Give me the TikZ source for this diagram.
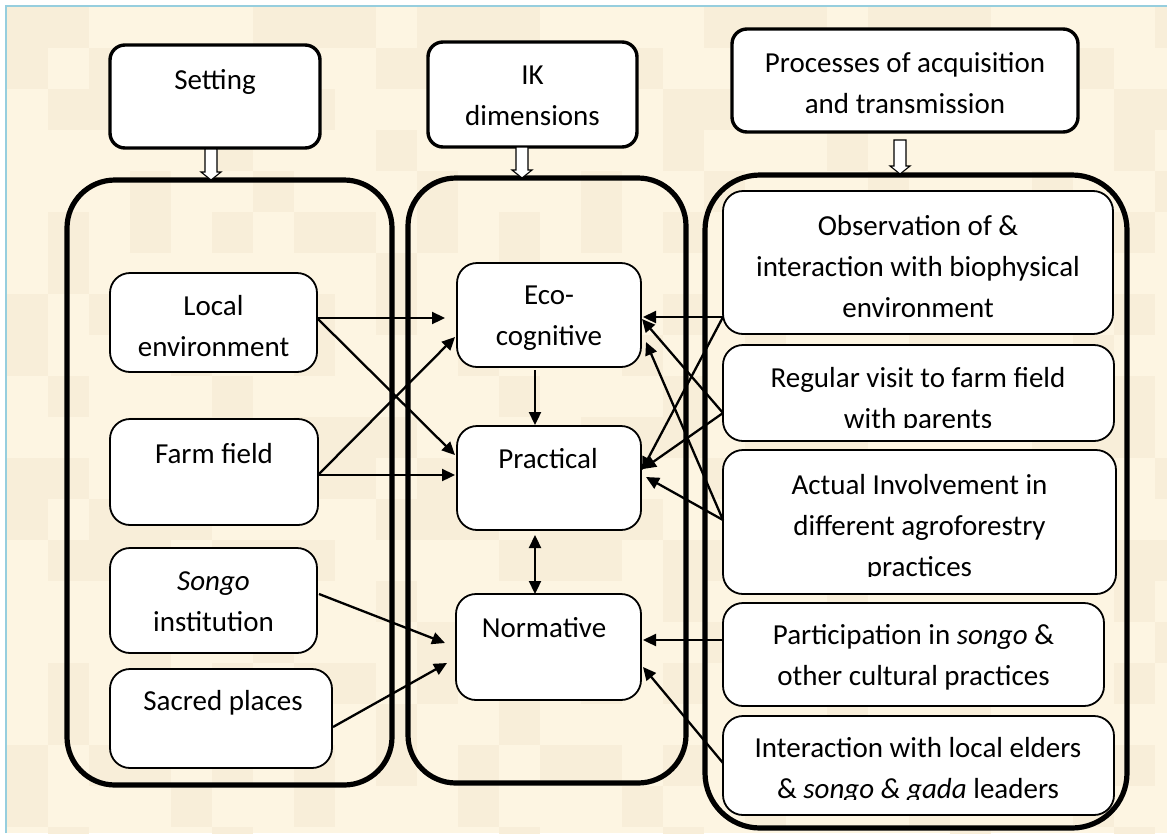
\documentclass[tikz,border=0pt]{standalone}
\usepackage{fontspec}
\setmainfont{Carlito}
\usetikzlibrary{calc,arrows.meta}
\definecolor{bgA}{RGB}{253,245,226}
\definecolor{bgB}{RGB}{248,238,217}
\definecolor{frameblue}{RGB}{150,206,222}
\tikzset{
  hdr/.style={draw=black, line width=3.4pt, fill=white, rounded corners=15pt, inner sep=0pt, outer sep=0pt},
  cont/.style={draw=black, line width=5.2pt, rounded corners=48pt, inner sep=0pt, outer sep=0pt},
  ibox/.style={draw=black, line width=1.8pt, fill=white, rounded corners=20pt, inner sep=0pt, outer sep=0pt},
  txt/.style={font=\fontsize{29}{41}\selectfont, align=center, inner sep=0pt, outer sep=0pt},
  conn/.style={line width=2.3pt, -{Triangle[length=13pt,width=12pt]}},
  conntwo/.style={line width=2.3pt, {Triangle[length=13pt,width=12pt]}-{Triangle[length=13pt,width=12pt]}},
  blk/.style={draw=black, line width=1.1pt, fill=white, line join=miter}
}
\newcommand\blockarrow[2]{%
  \draw[blk] ($(#1)+(-6,0)$) -- ($(#2)+(-6,-8)$) -- ($(#2)+(-10,-8)$) -- (#2)
    -- ($(#2)+(10,-8)$) -- ($(#2)+(6,-8)$) -- ($(#1)+(6,0)$) -- cycle;}
\begin{document}
\begin{tikzpicture}[x=1pt,y=-1pt]
\useasboundingbox (0,0) rectangle (1167,833);
% background
\fill[white] (0,0) rectangle (1167,833);
\fill[bgA] (7,7) rectangle (1167,833);
\begin{scope}
  \clip (7,7) rectangle (1167,833);
  \foreach \i in {0,...,28}{\foreach \j in {0,...,20}{
    \pgfmathtruncatemacro\myr{mod(\i*17+\j*31+\i*\j*13+\i*\i*7+\j*\j*3,11)}
    \ifnum\myr<4 \fill[bgB] ({\i*41+7},{\j*41+7}) rectangle ++(41,41);\fi
  }}
\end{scope}
\draw[frameblue, line width=2.5pt] (6,833) -- (6,6) -- (1167,6);

% header boxes
\node[hdr, minimum width=210pt, minimum height=103pt] (set) at (215,96.5) {};
\node[hdr, minimum width=209pt, minimum height=105pt] (ik) at (532.5,94.5) {};
\node[hdr, minimum width=346pt, minimum height=103pt] (proc) at (905,80.5) {};
\node[txt] (sett) at (215,81) {\strut Setting};
\node[txt] (ikt) at (532.5,97) {\strut IK\\\strut dimensions};
\node[txt] (proct) at (905,85) {\strut Processes of acquisition\\\strut and transmission};

% inner boxes
\node[ibox, minimum width=207pt, minimum height=99pt] (loc) at (213.5,322.5) {};
\node[ibox, minimum width=208pt, minimum height=106pt] (farm) at (214,472) {};
\node[ibox, minimum width=207pt, minimum height=105pt] (songo) at (213.5,600.5) {};
\node[ibox, minimum width=222pt, minimum height=99pt] (sacred) at (221,718.5) {};
\node[ibox, minimum width=184pt, minimum height=104pt] (eco) at (549,315) {};
\node[ibox, minimum width=184pt, minimum height=104pt] (prac) at (549,478) {};
\node[ibox, minimum width=185pt, minimum height=106pt] (norm) at (548.5,647) {};
\node[ibox, minimum width=390pt, minimum height=143pt] (obs) at (918,262.5) {};
\node[ibox, minimum width=391pt, minimum height=96pt] (reg) at (918.5,393) {};
\node[ibox, minimum width=393pt, minimum height=144pt] (act) at (919.5,522) {};
\node[ibox, minimum width=381pt, minimum height=103pt] (part) at (913.5,654.5) {};
\node[ibox, minimum width=391pt, minimum height=99pt] (inter) at (918.5,765.5) {};

% texts
\node[txt] (loct) at (213.5,328) {\strut Local\\\strut environment};
\node[txt] (farmt) at (214,455) {\strut Farm field};
\node[txt] (songot) at (213.5,603) {\strut\textit{Songo}\\\strut institution};
\node[txt] (sacredt) at (223,702) {\strut Sacred places};
\node[txt] (ecot) at (549,317) {\strut Eco-\\\strut cognitive};
\node[txt] (pract) at (548,460) {\strut Practical};
\node[txt] (normt) at (544,629) {\strut Normative};
\node[txt] (obst) at (918,268) {\strut Observation of \&\\\strut interaction with biophysical\\\strut environment};
\begin{scope}
  \clip (reg.north west) rectangle ($(reg.east)+(200,34)$);
  \node[txt] (regt) at (918,400) {\strut Regular visit to farm field\\\strut with parents};
\end{scope}
\begin{scope}
  \clip (act.north west) rectangle ($(act.east)+(200,54)$);
  \node[txt] (actt) at (919.5,527) {\strut Actual Involvement in\\\strut different agroforestry\\\strut practices};
\end{scope}
\node[txt] (partt) at (913.5,657) {\strut Participation in \textit{songo} \&\\\strut other cultural practices};
\begin{scope}
  \clip (inter.north west) rectangle ($(inter.east)+(200,34)$);
  \node[txt] (intert) at (918,770) {\strut Interaction with local elders\\\strut \& \textit{songo \& gada} leaders};
\end{scope}

% containers
\node[cont, minimum width=325pt, minimum height=605pt] (lcont) at (229.5,482.5) {};
\node[cont, minimum width=278pt, minimum height=605pt] (mcont) at (547,480.5) {};
\node[cont, rounded corners=55pt, minimum width=422pt, minimum height=653pt] (rcont) at (916,501.5) {};

% block arrows
\coordinate (a1s) at ($(set.south)+(-4,1)$);
\coordinate (a1e) at (a1s |- lcont.north);
\coordinate (a2s) at ($(ik.south)+(-10.5,0)$);
\coordinate (a2e) at (a2s |- mcont.north);
\coordinate (a3s) at ($(proc.south)+(-5,8)$);
\coordinate (a3e) at ($(a3s |- rcont.north)+(0,-1)$);
\blockarrow{a1s}{a1e}
\blockarrow{a2s}{a2e}
\blockarrow{a3s}{a3e}

% connectors left
\draw[conn] ($(loc.east)+(0,-4.5)$) -- ($(eco.west)+(-12,3)$);
\draw[conn] ($(loc.east)+(0,-4.5)$) -- ($(prac.west)+(-2,-23)$);
\draw[conn] ($(farm.east)+(0,3)$) -- ($(eco.west)+(-2,22)$);
\draw[conn] ($(farm.east)+(0,3)$) -- ($(prac.west)+(-2,-3)$);
\draw[conn] ($(songo.east)+(2,-6.5)$) -- ($(norm.west)+(-11,-4)$);
\draw[conn] ($(sacred.east)+(1,8.5)$) -- ($(norm.west)+(-9,16)$);
% connectors middle
\draw[conn] ($(eco.south)+(-14,3)$) -- ($(prac.north)+(-14,-1)$);
\draw[conntwo] ($(prac.south)+(-14,5)$) -- ($(norm.north)+(-13.5,0)$);
% connectors right
\draw[conn] ($(obs.west)+(0,54.5)$) -- ($(eco.east)+(2,2)$);
\draw[conn] ($(obs.west)+(0,54.5)$) -- ($(prac.east)+(1,-8)$);
\draw[conn] ($(reg.west)+(0,20)$) -- ($(eco.east)+(1,4)$);
\draw[conn] ($(reg.west)+(0,20)$) -- ($(prac.east)+(2,-9)$);
\draw[conn] ($(act.west)+(0,-2)$) -- ($(eco.east)+(5,27)$);
\draw[conn] ($(act.west)+(0,-2)$) -- ($(prac.east)+(5,-1)$);
\draw[conn] ($(part.west)+(0,-14.5)$) -- ($(norm.east)+(2,-7)$);
\draw[conn] ($(inter.west)+(0,-2.5)$) -- ($(norm.east)+(2,20)$);
\end{tikzpicture}
\end{document}
